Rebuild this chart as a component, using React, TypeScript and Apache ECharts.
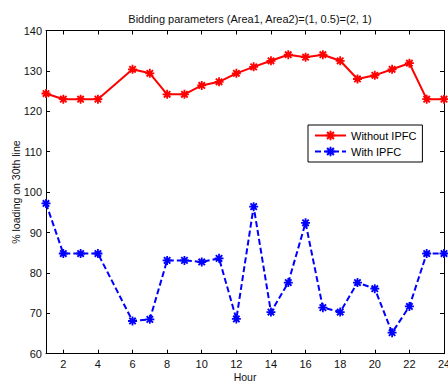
import React, { useEffect, useRef } from "react";
import * as echarts from "echarts";

const hours = [1, 2, 3, 4, 6, 7, 8, 9, 10, 11, 12, 13, 14, 15, 16, 17, 18, 19, 20, 21, 22, 23, 24];
const withoutIPFC = [124.4, 123.0, 123.0, 123.0, 130.4, 129.4, 124.2, 124.2, 126.4, 127.3, 129.4, 131.0, 132.5, 134.0, 133.4, 134.0, 132.5, 128.0, 128.9, 130.4, 131.9, 123.0, 123.0];
const withIPFC = [97.2, 84.8, 84.8, 84.8, 68.1, 68.5, 83.1, 83.1, 82.7, 83.6, 68.6, 96.4, 70.3, 77.6, 92.4, 71.4, 70.3, 77.6, 76.1, 65.2, 71.7, 84.8, 84.8];
const xTicks = [2, 4, 6, 8, 10, 12, 14, 16, 18, 20, 22, 24];
const titleText = "Bidding parameters (Area1, Area2)=(1, 0.5)=(2, 1)";
const seriesNames = ["Without IPFC", "With IPFC"];

const FONT = "'Liberation Sans', Arial, sans-serif";
const STAR =
  "path://M-5,-1L5,-1L5,1L-5,1Z M-1,-5L1,-5L1,5L-1,5Z M-2.8,-4.3L4.3,2.8L2.8,4.3L-4.3,-2.8Z M2.8,-4.3L4.3,-2.8L-2.8,4.3L-4.3,2.8Z M-2,-2L2,-2L2,2L-2,2Z";

export default function App() {
  const ref = useRef<HTMLDivElement>(null);
  useEffect(() => {
    document.body.style.margin = "0";
    const chart = echarts.init(ref.current!, null, { renderer: "svg" });
    const axisLine = { show: true, lineStyle: { color: "#000", width: 1 } };
    const label = { color: "#111", fontSize: 11, fontFamily: FONT };
    chart.setOption({
      animation: false,
      backgroundColor: "#fff",
      title: {
        text: titleText,
        left: 245,
        top: 8,
        textAlign: "center",
        textStyle: { fontSize: 11, fontWeight: "normal", color: "#111", fontFamily: FONT },
      },
      legend: {
        orient: "vertical",
        left: 308,
        top: 125,
        itemWidth: 31,
        itemHeight: 12,
        itemGap: 5,
        padding: [5, 6, 5, 6],
        borderColor: "#000",
        borderWidth: 1,
        borderRadius: 0,
        backgroundColor: "#fff",
        textStyle: { fontSize: 11, color: "#000", fontFamily: FONT },
        data: seriesNames,
      },
      grid: { left: 46, right: 4, top: 30.5, bottom: 30.3, containLabel: false, outerBoundsMode: "none" },
      xAxis: [
        {
          type: "value",
          min: 1,
          max: 24,
          name: "Hour",
          nameLocation: "middle",
          nameGap: 18,
          nameMoveOverlap: false,
          nameTextStyle: { ...label, fontSize: 10.5 },
          axisLine,
          splitLine: { show: false },
          axisTick: { inside: true, length: 4, customValues: xTicks, lineStyle: { color: "#000" } },
          axisLabel: { ...label, margin: 5, customValues: xTicks },
        },
        {
          type: "value",
          min: 1,
          max: 24,
          position: "top",
          axisLine,
          splitLine: { show: false },
          axisTick: { inside: true, length: 4, customValues: xTicks, lineStyle: { color: "#000" } },
          axisLabel: { show: false },
        },
      ],
      yAxis: [
        {
          type: "value",
          min: 60,
          max: 140,
          interval: 10,
          name: "% loading on 30th line",
          nameLocation: "middle",
          nameGap: 25,
          nameMoveOverlap: false,
          nameTextStyle: { ...label, fontSize: 10.5 },
          axisLine,
          splitLine: { show: false },
          axisTick: { inside: true, length: 4, lineStyle: { color: "#000" } },
          axisLabel: { ...label, margin: 4 },
        },
        {
          type: "value",
          min: 60,
          max: 140,
          interval: 10,
          position: "right",
          axisLine,
          splitLine: { show: false },
          axisTick: { inside: true, length: 4, lineStyle: { color: "#000" } },
          axisLabel: { show: false },
        },
      ],
      series: [
        {
          name: seriesNames[0],
          type: "line",
          data: hours.map((h, i) => [h, withoutIPFC[i]]),
          color: "#ff0000",
          lineStyle: { color: "#ff0000", width: 2 },
          itemStyle: { color: "#ff0000" },
          symbol: STAR,
          symbolSize: 9,
          showAllSymbol: true,
        },
        {
          name: seriesNames[1],
          type: "line",
          data: hours.map((h, i) => [h, withIPFC[i]]),
          color: "#0000ff",
          lineStyle: { color: "#0000ff", width: 2, type: [6, 3] },
          itemStyle: { color: "#0000ff" },
          symbol: STAR,
          symbolSize: 9,
          showAllSymbol: true,
        },
      ],
    });
    return () => chart.dispose();
  }, []);
  return <div ref={ref} style={{ width: 448, height: 384 }} />;
}
